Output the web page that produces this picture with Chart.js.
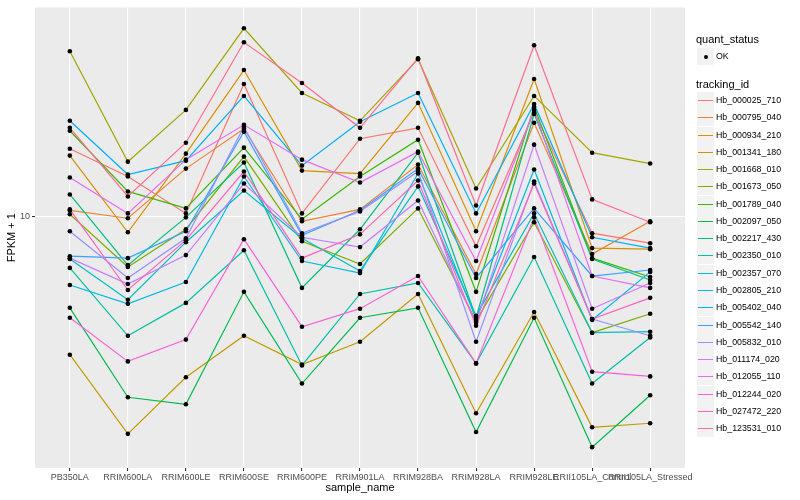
<!DOCTYPE html>
<html>
<head>
<meta charset="utf-8">
<script src="https://cdn.jsdelivr.net/npm/chart.js@4"></script>
<style>
  body { margin: 0; background: #fff; font-family: "Liberation Sans", Arial, sans-serif; }
  #wrap { position: relative; width: 800px; height: 500px; }
  #legend { position: absolute; left: 0; top: 0; width: 800px; height: 500px; pointer-events: none; }
  .lg-title { position: absolute; left: 696px; font-size: 11px; color: #000; line-height: 13px; }
  .lg-key { position: absolute; left: 697px; width: 17px; height: 17px; background: #F2F2F2; }
  .lg-line { position: absolute; left: 1px; right: 1px; top: 8px; height: 1px; }
  .lg-dot { position: absolute; left: 6.5px; top: 6.5px; width: 4px; height: 4px; border-radius: 50%; background: #000; }
  .lg-text { position: absolute; left: 716px; font-size: 8.8px; color: #000; line-height: 11px; }
</style>
</head>
<body>
<div id="wrap">
  <canvas id="chart" width="800" height="500"></canvas>
  <div id="legend"></div>
</div>
<script>
const samples = ['PB350LA', 'RRIM600LA', 'RRIM600LE', 'RRIM600SE', 'RRIM600PE', 'RRIM901LA',
  'RRIM928BA', 'RRIM928LA', 'RRIM928LE', 'RRII105LA_Control', 'RRII105LA_Stressed'];

const trackingIds = ['Hb_000025_710', 'Hb_000795_040', 'Hb_000934_210', 'Hb_001341_180', 'Hb_001668_010',
  'Hb_001673_050', 'Hb_001789_040', 'Hb_002097_050', 'Hb_002217_430', 'Hb_002350_010',
  'Hb_002357_070', 'Hb_002805_210', 'Hb_005402_040', 'Hb_005542_140', 'Hb_005832_010',
  'Hb_011174_020', 'Hb_012055_110', 'Hb_012244_020', 'Hb_027472_220', 'Hb_123531_010'];

// FPKM + 1 per sample, one array per tracking_id
const hb_000025_710 = [14.79, 12.59, 10.17, 21.50, 10.17, 15.67, 16.69, 8.41, 18.30, 9.07, 8.56];
const hb_000795_040 = [10.35, 9.89, 13.18, 16.60, 9.72, 10.41, 13.49, 7.16, 17.18, 8.04, 9.72];
const hb_000934_210 = [14.21, 9.12, 14.37, 23.31, 13.03, 12.81, 19.28, 9.17, 22.13, 8.32, 8.27];
const hb_001341_180 = [4.49, 2.84, 3.94, 5.01, 4.24, 4.84, 6.38, 3.20, 5.75, 2.95, 3.02];
const hb_001668_010 = [26.00, 13.72, 18.51, 29.68, 20.42, 17.38, 24.83, 11.75, 20.07, 14.45, 13.57];
const hb_001673_050 = [10.12, 7.46, 9.28, 14.13, 8.66, 7.59, 10.47, 5.46, 9.66, 5.10, 5.69];
const hb_001789_040 = [16.41, 11.55, 10.47, 14.88, 9.83, 12.59, 15.58, 6.46, 18.84, 7.85, 7.04];
const hb_002097_050 = [5.89, 3.51, 3.37, 6.46, 3.80, 5.56, 5.89, 2.87, 5.56, 2.63, 3.55];
const hb_002217_430 = [11.35, 7.54, 9.94, 13.65, 6.61, 9.28, 14.45, 5.56, 18.09, 7.81, 6.92];
const hb_002350_010 = [7.42, 5.01, 6.06, 8.22, 4.22, 6.38, 6.80, 4.27, 7.90, 3.80, 4.96];
const hb_002357_070 = [7.81, 6.17, 8.61, 11.61, 8.81, 7.29, 11.89, 5.62, 10.17, 5.10, 5.13];
const hb_002805_210 = [6.72, 6.03, 6.84, 12.59, 7.72, 7.20, 12.81, 5.52, 13.11, 5.49, 7.25];
const hb_005402_040 = [17.38, 12.74, 13.80, 20.07, 13.41, 17.28, 20.42, 10.17, 19.16, 8.86, 8.32];
const hb_005542_140 = [7.94, 7.85, 9.17, 16.31, 8.96, 10.35, 13.18, 7.00, 10.47, 7.08, 7.33];
const hb_005832_010 = [9.17, 7.00, 8.81, 16.79, 9.07, 10.29, 12.96, 4.84, 12.23, 5.52, 5.01];
const hb_011174_020 = [7.85, 6.76, 7.99, 12.09, 8.86, 8.37, 10.96, 5.40, 15.14, 5.86, 6.80];
const hb_012055_110 = [12.52, 10.17, 13.88, 16.98, 13.88, 12.16, 14.54, 7.72, 18.51, 7.08, 6.61];
const hb_012244_020 = [5.56, 4.32, 4.90, 8.76, 5.28, 5.86, 7.08, 4.27, 9.94, 4.07, 3.96];
const hb_027472_220 = [10.41, 6.53, 8.71, 12.96, 7.85, 9.01, 12.30, 5.31, 12.09, 5.52, 6.24];
const hb_123531_010 = [16.69, 11.22, 15.31, 27.38, 21.63, 16.69, 24.97, 10.65, 26.92, 11.03, 9.66];

const yTicks = [10];

const seriesValues = [hb_000025_710, hb_000795_040, hb_000934_210, hb_001341_180, hb_001668_010,
  hb_001673_050, hb_001789_040, hb_002097_050, hb_002217_430, hb_002350_010,
  hb_002357_070, hb_002805_210, hb_005402_040, hb_005542_140, hb_005832_010,
  hb_011174_020, hb_012055_110, hb_012244_020, hb_027472_220, hb_123531_010];

// ggplot2 default hue palette for 20 levels
const colors = ['#F8766D', '#EA8331', '#D89000', '#C09B00', '#A3A500', '#7CAE00', '#39B600', '#00BB4E',
  '#00BF7D', '#00C1A3', '#00BFC4', '#00BAE0', '#00B0F6', '#35A2FF', '#9590FF', '#C77CFF',
  '#E76BF3', '#FA62DB', '#FF62BC', '#FF6C91'];

const toPoints = vals => vals.map((v, i) => ({ x: i + 1, y: v }));

const lineSets = seriesValues.map((vals, i) => ({
  label: trackingIds[i],
  data: toPoints(vals),
  borderColor: colors[i],
  borderWidth: 1.2,
  pointRadius: 0,
  fill: false,
  tension: 0,
  order: seriesValues.length - i
}));

const pointSet = {
  label: 'OK',
  data: seriesValues.flatMap(toPoints),
  showLine: false,
  pointRadius: 2.3,
  pointBackgroundColor: '#000',
  pointBorderWidth: 0,
  order: -1
};

const panelBg = {
  id: 'panelBg',
  beforeDraw(chart) {
    const { ctx, chartArea: a } = chart;
    ctx.save();
    ctx.fillStyle = '#EBEBEB';
    ctx.fillRect(a.left, a.top, a.right - a.left, a.bottom - a.top);
    ctx.restore();
  }
};

const tickFont = { family: '"Liberation Sans", Arial, sans-serif', size: 9 };
const titleFont = { family: '"Liberation Sans", Arial, sans-serif', size: 11 };

new Chart(document.getElementById('chart').getContext('2d'), {
  type: 'line',
  data: { datasets: [...lineSets, pointSet] },
  plugins: [panelBg],
  options: {
    responsive: false,
    animation: false,
    layout: { padding: { left: 0, top: 5, right: 115, bottom: 0 } },
    plugins: { legend: { display: false }, tooltip: { enabled: false } },
    scales: {
      x: {
        type: 'linear',
        min: 0.4,
        max: samples.length + 0.6,
        afterBuildTicks: axis => { axis.ticks = samples.map((s, i) => ({ value: i + 1 })); },
        afterFit: axis => { axis.height = 32; },
        ticks: {
          callback: v => samples[v - 1],
          autoSkip: false, maxRotation: 0, minRotation: 0,
          color: '#4D4D4D', font: tickFont, padding: 1
        },
        grid: { color: '#FFFFFF', lineWidth: 1.1, tickColor: '#333333', tickLength: 3 },
        border: { display: false },
        title: { display: true, text: 'sample_name', color: '#000', font: titleFont, padding: { top: 0, bottom: 5 } }
      },
      y: {
        type: 'logarithmic',
        min: 2.331,
        max: 33.5,
        afterBuildTicks: axis => { axis.ticks = yTicks.map(v => ({ value: v })); },
        afterFit: axis => { axis.width = 35; },
        ticks: { callback: v => String(v), color: '#4D4D4D', font: tickFont, padding: 2 },
        grid: { color: '#FFFFFF', lineWidth: 1.1, tickColor: '#333333', tickLength: 3 },
        border: { display: false },
        title: { display: true, text: 'FPKM + 1', color: '#000', font: titleFont, padding: { top: 5, bottom: 0 } }
      }
    }
  }
});

// ggplot-style legend on the right
const legend = document.getElementById('legend');
let html = '<div class="lg-title" style="top:33px">quant_status</div>';
html += '<div class="lg-key" style="top:48px"><div class="lg-dot"></div></div>';
html += '<div class="lg-text" style="top:51px">OK</div>';
html += '<div class="lg-title" style="top:78px">tracking_id</div>';
trackingIds.forEach((id, i) => {
  const top = Math.round(92 + i * 17.27);
  html += `<div class="lg-key" style="top:${top}px"><div class="lg-line" style="background:${colors[i]}"></div></div>`;
  html += `<div class="lg-text" style="top:${top + 3}px">${id}</div>`;
});
legend.innerHTML = html;
</script>
</body>
</html>
